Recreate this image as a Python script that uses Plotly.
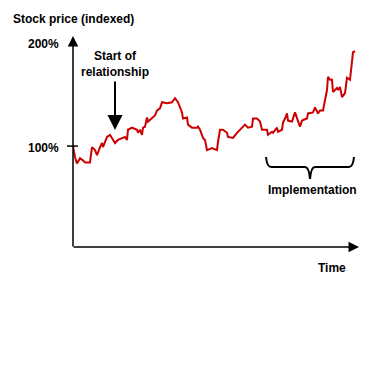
import plotly.graph_objects as go

# ---- data (time index, stock price indexed %) ----
time_idx = [0, 2, 4, 7, 10, 12, 17, 19, 22, 24, 27, 29, 30, 34, 37, 40, 42, 45, 49, 52,
            54, 55, 59, 64, 65, 67, 69, 70, 72, 74, 75, 79, 82, 84, 87, 89, 94, 99, 102, 105,
            109, 110, 114, 115, 119, 124, 125, 127, 130, 132, 134, 139, 144, 145, 147, 150,
            154, 155, 160, 164, 167, 169, 172, 175, 179, 180, 184, 187, 189, 194, 195, 199,
            200, 204, 205, 209, 210, 212, 214, 215, 219, 222, 224, 227, 229, 234, 235, 240,
            242, 245, 247, 250, 252, 254, 255, 257, 259, 260, 264, 265, 267, 269, 272, 274,
            277, 279, 280, 282]
price_pct = [100, 89, 83, 88, 86, 84, 84, 99, 96, 91, 99, 103, 99, 109, 111, 106, 103, 106, 108, 109,
             106, 116, 118, 116, 113, 116, 111, 118, 119, 128, 124, 128, 130, 135, 137, 143, 142, 143, 147, 143,
             133, 127, 128, 121, 118, 118, 119, 116, 108, 106, 96, 98, 96, 104, 116, 116,
             113, 109, 108, 113, 116, 119, 121, 118, 119, 127, 127, 124, 116, 116, 111, 114,
             113, 118, 114, 116, 123, 127, 132, 125, 124, 133, 127, 119, 125, 127, 132, 133,
             138, 132, 135, 135, 145, 155, 168, 165, 165, 153, 157, 155, 158, 148, 152, 167,
             165, 181, 192, 193]
tick_values = [100, 200]
tick_labels = ["100%", "200%"]

# ---- layout geometry (page has 8px body margin) ----
OFF = 8
W, H = 385 - OFF, 387 - OFF
ML, MR, MT, MB = 73 - OFF, 28, 38 - OFF, 140
PW, PH = W - ML - MR, H - MT - MB
XR = [0, 284]
YR = [1, 206]


def PX(px):  # page pixel x -> paper
    return (px - OFF - ML) / PW


def PY(py):  # page pixel y -> paper
    return 1 - (py - OFF - MT) / PH


def VY(v):  # value -> paper y
    return (v - YR[0]) / (YR[1] - YR[0])


FONT = "Liberation Sans, Arial, sans-serif"

fig = go.Figure()
fig.add_trace(go.Scatter(x=time_idx, y=price_pct, mode="lines",
                         line=dict(color="#CC0000", width=2), hoverinfo="skip",
                         showlegend=False, cliponaxis=False))

ann = []


def arrow(hx, hy, tx, ty, size, width):
    ann.append(dict(x=PX(hx), y=PY(hy), xref="paper", yref="paper",
                    ax=tx - hx, ay=ty - hy, axref="pixel", ayref="pixel",
                    showarrow=True, arrowhead=2, arrowsize=size, arrowwidth=width,
                    arrowcolor="black", text=""))


# axes with arrowheads
arrow(73, 36, 73, 248, 1.4, 1.5)
arrow(359, 247, 72, 247, 1.4, 1.5)
# start of relationship arrow
arrow(115, 130, 115, 80, 1.5, 2)

# tick labels
for v, lab in zip(tick_values, tick_labels):
    ann.append(dict(x=PX(61), y=VY(v) - (0.01 if v == 100 else 0), xref="paper", yref="paper",
                    text="<b>%s</b>" % lab, showarrow=False, xanchor="right", yanchor="middle",
                    font=dict(family=FONT, size=12, color="black")))
# texts
texts = [
    ("Stock price (indexed)", 11, 19, "left"),
    ("Start of<br>relationship", 115, 64, "center"),
    ("Implementation", 312, 190, "center"),
    ("Time", 332, 268, "center"),
]
for t, px, py, anc in texts:
    ann.append(dict(x=PX(px), y=PY(py), xref="paper", yref="paper", text="<b>%s</b>" % t,
                    showarrow=False, xanchor=anc, yanchor="middle",
                    font=dict(family=FONT, size=12, color="black")))

shapes = [
    # 100% tick
    dict(type="line", xref="paper", yref="paper", x0=PX(67), x1=PX(78), y0=VY(100), y1=VY(100),
         line=dict(color="black", width=1.5)),
    # brace
    dict(type="path", xref="paper", yref="paper",
         path=("M{a},{b} Q{c},{d} {e},{d} L{f},{d} Q{g},{d} {h},{i} Q{j},{d} {k},{d} L{l},{d} Q{m},{d} {n},{b}"
               ).format(a=PX(266), b=PY(157), c=PX(267), d=PY(167), e=PX(271), f=PX(305), g=PX(309),
                        h=PX(310), i=PY(179), j=PX(311), k=PX(315), l=PX(349), m=PX(353), n=PX(354)),
         line=dict(color="black", width=2)),
]

fig.update_layout(
    width=W, height=H, margin=dict(l=ML, r=MR, t=MT, b=MB, pad=0),
    paper_bgcolor="white", plot_bgcolor="white",
    xaxis=dict(range=XR, visible=False, fixedrange=True),
    yaxis=dict(range=YR, visible=False, fixedrange=True),
    annotations=ann, shapes=shapes, showlegend=False,
)
fig.write_html("out.html")
